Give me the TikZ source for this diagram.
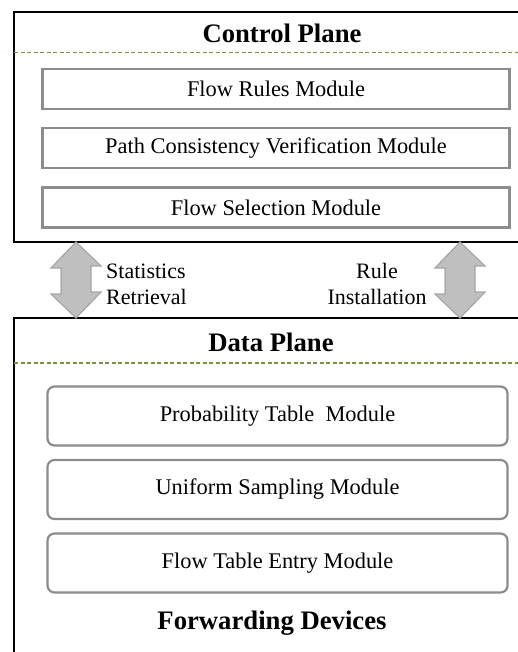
\documentclass[tikz,border=0pt]{standalone}
\usepackage{fontspec}
\setmainfont{Liberation Serif}
\usetikzlibrary{positioning}
\definecolor{olivedash}{RGB}{118,146,60}
\definecolor{boxgray}{RGB}{140,140,140}
\definecolor{arrowfill}{RGB}{191,191,191}
\definecolor{arrowline}{RGB}{166,166,166}
\tikzset{plane/.style={draw, line width=2.2pt, outer sep=0pt, inner sep=0pt},
  sepline/.style={olivedash, line width=1.2pt, dash pattern=on 4pt off 2.5pt},
  mod/.style={draw=boxgray, line width=2.2pt, minimum width=467pt, minimum height=40pt, inner sep=0pt, font=\fontsize{22.4}{26}\selectfont},
  rmod/.style={mod, rounded corners=7pt, minimum width=460pt, minimum height=59pt},
  ttl/.style={inner sep=0pt, font=\fontsize{26.7}{30}\selectfont\bfseries},
  lbl/.style={inner sep=0pt, font=\fontsize{22}{26}\selectfont},
  arr/.style={fill=arrowfill, draw=arrowline, line width=1.2pt, line join=miter}}

\begin{document}
\begin{tikzpicture}[x=1pt, y=-1pt]
    \clip (0,0) rectangle (518,652);
    % planes
    \node[plane, anchor=north west, minimum width=530pt, minimum height=230pt] (cp) at (14,12) {};
    \node[plane, anchor=north west, minimum width=530pt, minimum height=360pt] (dp) at (14,318) {};
    \draw[sepline] ([yshift=-40.5pt]cp.north west) -- ([yshift=-40.5pt]cp.north east);
    \draw[sepline] ([yshift=-45pt]dp.north west) -- ([yshift=-45pt]dp.north east);
    % control plane
    \node[ttl] (cpt) at (282,33) {Control Plane};
    \node[mod] (fr) at (276,89) {Flow Rules Module};
    \node[mod] (pcv) at (276,148) {Path Consistency Verification Module};
    \node[mod] (fs) at (276,207.5) {Flow Selection Module};
    % data plane
    \node[ttl] (dpt) at (271,342) {Data Plane};
    \node[rmod] (pt) at (277.5,416) {Probability Table~ Module};
    \node[rmod] (us) at (277.5,489.5) {Uniform Sampling Module};
    \node[rmod] (fte) at (277.5,563) {Flow Table Entry Module};
    \node[ttl] (fd) at (272,623) {Forwarding Devices};
    % arrows between planes
    \coordinate (sr) at (cp.south west -| 76,0);
    \coordinate (ri) at (cp.south west -| 460,0);
    \foreach \c in {sr,ri}
      \draw[arr] (\c) -- ++(25,24) -- ++(-10,0) -- ++(0,26) -- ++(10,0) -- (\c |- dp.north) -- ++(-25,-24) -- ++(10,0) -- ++(0,-26) -- ++(-10,0) -- cycle;
    \node[lbl, align=left, anchor=west] (srl) at (106,284) {Statistics\\Retrieval};
    \node[lbl, align=center] (ril) at (377,284) {Rule\\Installation};
\end{tikzpicture}
\end{document}
